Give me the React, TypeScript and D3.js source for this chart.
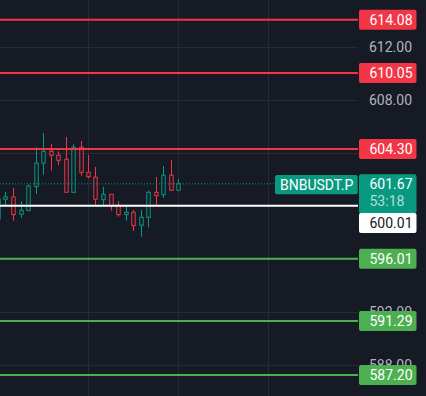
import * as d3 from "d3";

// candles: [open, high, low, close]
const opens = [599.01, 600.5, 600.68, 599.37, 599.64, 601.46, 603.23, 604.13, 603.83, 603.53, 601.03, 604.44, 602.54, 602.17, 600.47, 600.88, 600.05, 599.34, 599.52, 598.54, 599.14, 601.03, 600.85, 602.32, 601.18];
const highs = [600.6, 601.05, 601.36, 600.35, 601.62, 604.44, 605.52, 604.69, 604.13, 605.21, 604.66, 604.91, 603.85, 602.95, 601.43, 600.88, 600.35, 599.97, 599.69, 599.69, 601.15, 602.19, 603.02, 603.48, 602.04];
const lows = [598.9, 600.02, 598.88, 599.11, 599.64, 600.9, 602.36, 602.67, 603.07, 601.03, 601.03, 602.29, 602.09, 600.07, 599.99, 599.64, 599.19, 598.88, 598.1, 597.67, 598.38, 600.05, 600.62, 601.18, 601.18];
const closes = [600.52, 600.68, 599.34, 599.67, 601.51, 603.23, 604.13, 603.83, 603.45, 601.03, 604.44, 602.54, 602.21, 600.5, 600.88, 600.02, 599.34, 599.52, 598.51, 599.14, 601.03, 600.77, 602.32, 601.18, 601.67];

const resistances = [614.08, 610.05, 604.3];
const supports = [596.01, 591.29, 587.2];
const pivot = 600.01;
const lastPrice = 601.67;
const countdown = "53:18";
const symbol = "BNBUSDT.P";
const gridTicks = [612, 608, 604, 600, 596, 592, 588];
// labels of 604/600/596 sit fully under the level tags, so only these show
const tickLabels = [612, 608, 592, 588];
const timeGridIdx = [12, 24, 36];

const W = 426;
const H = 396;
const axisX = 358;
const BG = "#161a25";
const UP = "#089981";
const DOWN = "#f23645";
const SUP = "#4caf50";
const FONT = "Roboto, 'Noto Sans', sans-serif";

export default function App() {
  const y = d3.scaleLinear().domain([612, 588]).range([47.3, 364.5]);
  const x = d3.scaleLinear().domain([0, 24]).range([-2, 178]);
  const bodyW = 3.4;

  const label = (v: number, fill: string, txt = "#ffffff", cy = y(v), text = v.toFixed(2)) => (
    <g key={"l" + v}>
      <rect x={359} y={cy - 10} width={57.5} height={20} rx={2} fill={fill} />
      <text x={369.5} y={cy} dy="0.36em" fill={txt} fontSize={14} fontFamily={FONT}>
        {text}
      </text>
    </g>
  );

  return (
    <svg width={W} height={H} style={{ position: "absolute", left: 0, top: 0, display: "block" }}>
      <rect width={W} height={H} fill={BG} />
      {/* grid */}
      {gridTicks.map((t) => (
        <line key={"h" + t} x1={0} x2={axisX} y1={Math.round(y(t)) + 0.5} y2={Math.round(y(t)) + 0.5} stroke="#262a35" />
      ))}
      {timeGridIdx.map((i) => (
        <line key={"v" + i} x1={Math.round(x(i)) + 0.5} x2={Math.round(x(i)) + 0.5} y1={0} y2={H} stroke="#262a35" />
      ))}
      {/* tick labels */}
      {tickLabels.map((t) => (
        <text key={"t" + t} x={369} y={y(t)} dy="0.36em" fill="#b2b5be" fontSize={14} fontFamily={FONT}>
          {t.toFixed(2)}
        </text>
      ))}
      {/* candles */}
      {opens.map((o, i) => {
        const c = closes[i];
        const col = c >= o ? UP : DOWN;
        const cx = Math.round(x(i)) + 0.5;
        const top = y(Math.max(o, c));
        const bot = y(Math.min(o, c));
        return (
          <g key={"c" + i}>
            <line x1={cx} x2={cx} y1={y(highs[i])} y2={top} stroke={col} />
            <line x1={cx} x2={cx} y1={bot} y2={y(lows[i])} stroke={col} />
            <rect x={cx - bodyW / 2} y={top} width={bodyW} height={Math.max(1, bot - top)} fill={BG} stroke={col} strokeWidth={1} />
          </g>
        );
      })}
      {/* last price dotted */}
      <line x1={0} x2={275} y1={y(lastPrice)} y2={y(lastPrice)} stroke={UP} strokeDasharray="1,2" />
      {/* levels */}
      {resistances.map((v) => (
        <line key={"r" + v} x1={0} x2={axisX} y1={y(v)} y2={y(v)} stroke={DOWN} strokeWidth={2} />
      ))}
      {supports.map((v) => (
        <line key={"s" + v} x1={0} x2={axisX} y1={y(v)} y2={y(v)} stroke={SUP} strokeWidth={2} />
      ))}
      <line x1={0} x2={axisX} y1={y(pivot)} y2={y(pivot)} stroke="#ffffff" strokeWidth={2} />
      {/* axis labels */}
      {resistances.map((v) => label(v, DOWN))}
      {supports.map((v) => label(v, SUP))}
      <rect x={359} y={174.3} width={57.5} height={39} rx={2} fill={UP} />
      <text x={369.5} y={y(lastPrice)} dy="0.36em" fill="#ffffff" fontSize={14} fontFamily={FONT}>
        {lastPrice.toFixed(2)}
      </text>
      <text x={369.5} y={200.5} dy="0.36em" fill="rgba(255,255,255,0.7)" fontSize={14} fontFamily={FONT}>
        {countdown}
      </text>
      {label(pivot, "#ffffff", "#131722", 223)}
      {/* symbol tag */}
      <rect x={275} y={175} width={82.7} height={19.3} rx={2} fill={UP} />
      <text x={280} y={184.7} dy="0.36em" fill="#ffffff" fontSize={14} fontFamily={FONT}>
        {symbol}
      </text>
    </svg>
  );
}
